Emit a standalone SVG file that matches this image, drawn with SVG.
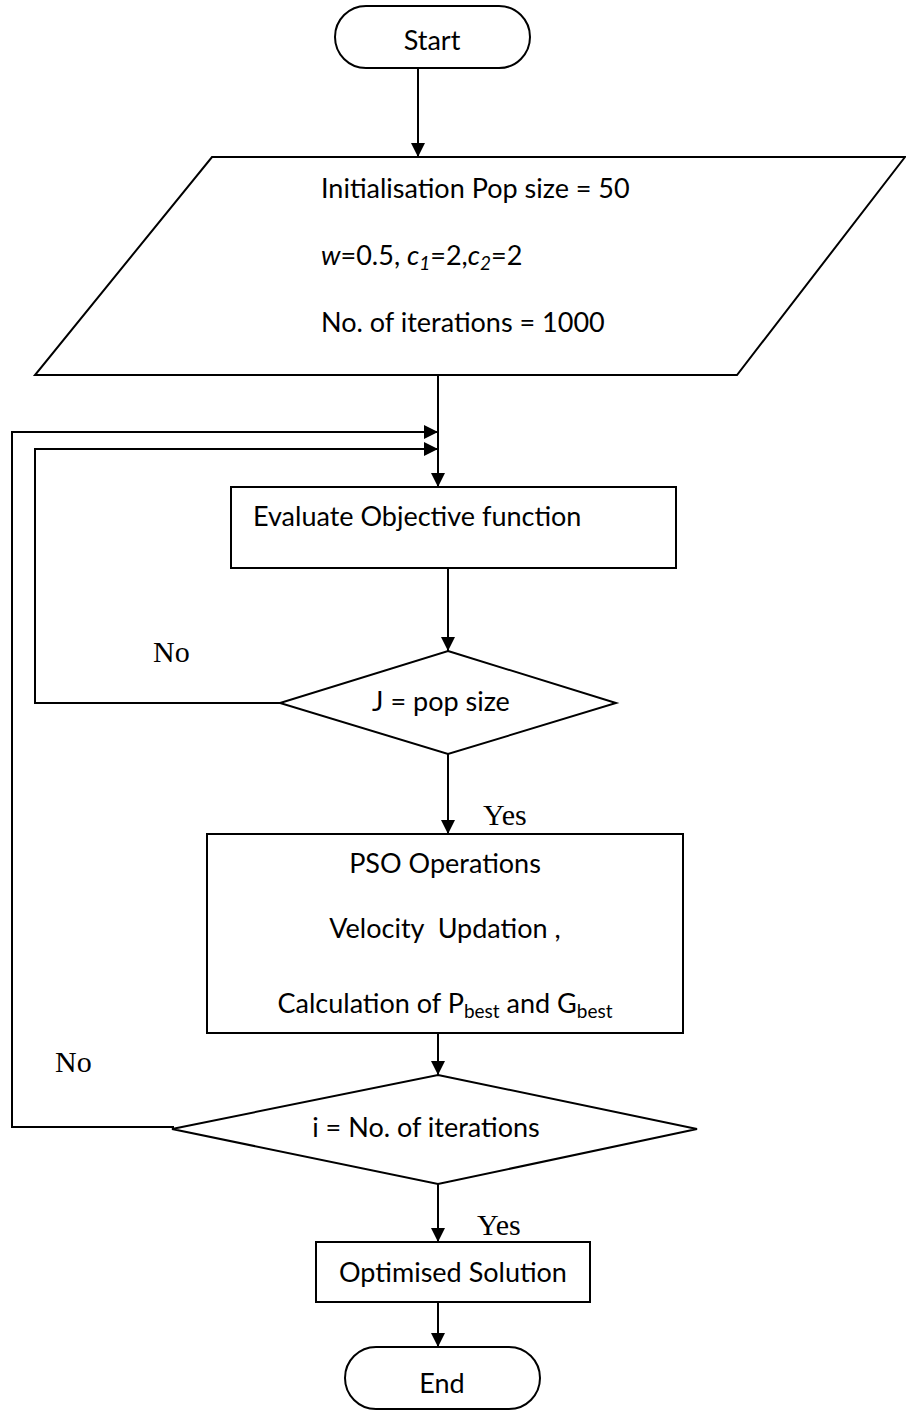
<svg xmlns="http://www.w3.org/2000/svg" width="906" height="1411" viewBox="0 0 906 1411">
<style>
.s{fill:#fff;stroke:#000;stroke-width:2}
.c{fill:none;stroke:#000;stroke-width:2}
.t{font-family:Lato,"Liberation Sans",sans-serif;font-size:27px;fill:#000}
.m{text-anchor:middle}
.r{font-family:"Liberation Serif",serif;font-size:30px;fill:#000}
.i{font-style:italic}
.sub{font-size:19px}
</style>
<defs>
<marker id="ah" markerUnits="userSpaceOnUse" markerWidth="14" markerHeight="14" refX="14" refY="7" orient="auto">
<path d="M0,0 L14,7 L0,14 z" fill="#000"/>
</marker>
</defs>
<g id="connectors">
<line class="c" x1="418" y1="69" x2="418" y2="157" marker-end="url(#ah)"/>
<line class="c" x1="438" y1="375" x2="438" y2="487" marker-end="url(#ah)"/>
<polyline class="c" points="280,703 35,703 35,449 438,449" marker-end="url(#ah)"/>
<polyline class="c" points="174,1127 12,1127 12,432 438,432" marker-end="url(#ah)"/>
<line class="c" x1="448" y1="568" x2="448" y2="651" marker-end="url(#ah)"/>
<line class="c" x1="448" y1="754" x2="448" y2="834" marker-end="url(#ah)"/>
<line class="c" x1="438" y1="1033" x2="438" y2="1075" marker-end="url(#ah)"/>
<line class="c" x1="438" y1="1184" x2="438" y2="1242" marker-end="url(#ah)"/>
<line class="c" x1="438" y1="1302" x2="438" y2="1347" marker-end="url(#ah)"/>
<text class="r" x="153" y="662">No</text>
<text class="r" x="483" y="825">Yes</text>
<text class="r" x="55" y="1072">No</text>
<text class="r" x="477" y="1235">Yes</text>
</g>
<g id="start">
<rect class="s" x="335" y="6" width="195" height="62" rx="31"/>
<text class="t m" x="432" y="50">Start</text>
</g>
<g id="init">
<polygon class="s" points="212,157 905,157 737,375 35,375"/>
<text class="t" x="321" y="198">Initialisation Pop size = 50</text>
<text class="t" x="321" y="265"><tspan class="i">w</tspan>=0.5, <tspan class="i">c</tspan><tspan class="i sub" dy="5">1</tspan><tspan dy="-5">=2,</tspan><tspan class="i">c</tspan><tspan class="i sub" dy="5">2</tspan><tspan dy="-5">=2</tspan></text>
<text class="t" x="321" y="332">No. of iterations = 1000</text>
</g>
<g id="evaluate">
<rect class="s" x="231" y="487" width="445" height="81"/>
<text class="t" x="253" y="526">Evaluate Objective function</text>
</g>
<g id="check-pop">
<polygon class="s" points="448,651 616,703 448,754 280,703"/>
<text class="t m" x="441" y="711">J = pop size</text>
</g>
<g id="pso">
<rect class="s" x="207" y="834" width="476" height="199"/>
<text class="t m" x="445" y="873">PSO Operations</text>
<text class="t m" x="445" y="938" xml:space="preserve">Velocity  Updation ,</text>
<text class="t m" x="445" y="1013">Calculation of P<tspan class="sub" dy="5">best</tspan><tspan dy="-5"> and G</tspan><tspan class="sub" dy="5">best</tspan></text>
</g>
<g id="check-iter">
<polygon class="s" points="438,1075 697,1129 438,1184 172,1129"/>
<text class="t m" x="426" y="1137">i = No. of iterations</text>
</g>
<g id="optimised">
<rect class="s" x="316" y="1242" width="274" height="60"/>
<text class="t m" x="453" y="1282">Optimised Solution</text>
</g>
<g id="end">
<rect class="s" x="345" y="1347" width="195" height="62" rx="31"/>
<text class="t m" x="442" y="1393">End</text>
</g>
</svg>
